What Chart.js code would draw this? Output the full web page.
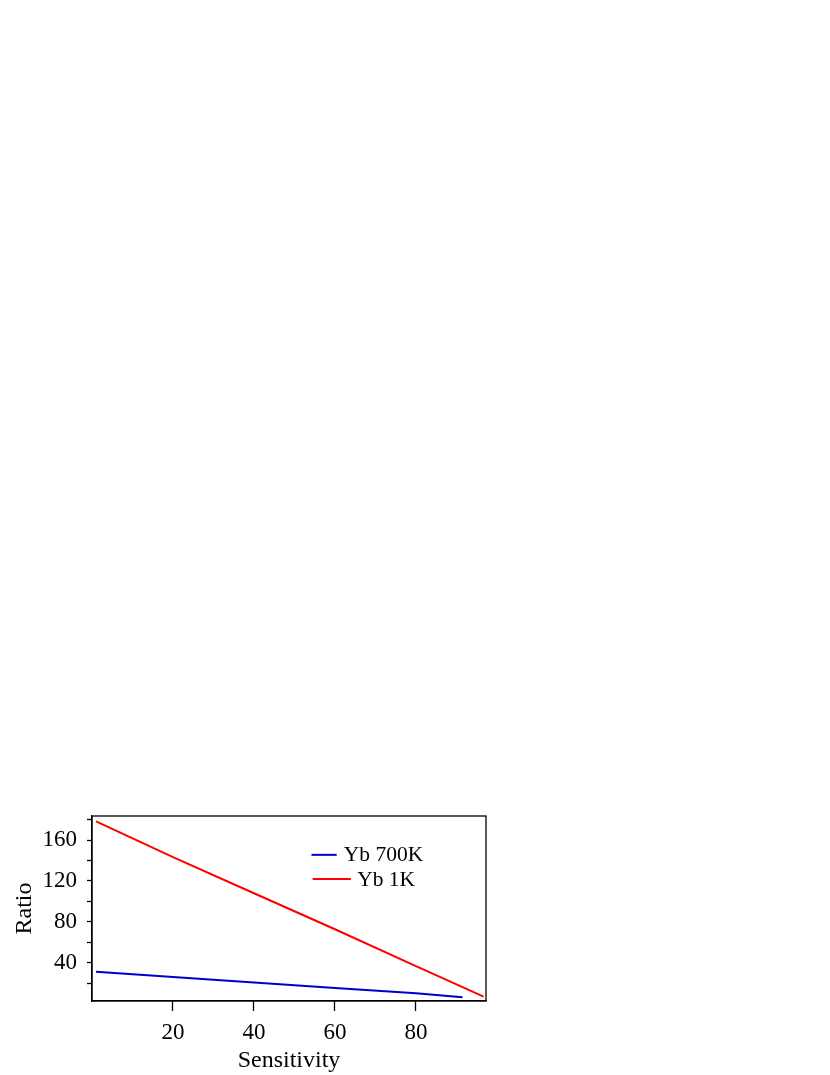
<!DOCTYPE html>
<html>
<head>
<meta charset="utf-8">
<script src="https://cdn.jsdelivr.net/npm/chart.js@4/dist/chart.umd.min.js"></script>
<style>
  html, body { margin: 0; padding: 0; background: #fff; }
  #wrap { width: 830px; height: 1075px; }
</style>
</head>
<body>
<div id="wrap"><canvas id="myChart" width="830" height="1075"></canvas></div>
<script>
// series (x = sensitivity, y = ratio)
var yb700kX = [1, 20, 40, 60, 80, 91.5];
var yb700kY = [31.1, 25.8, 20.5, 15.2, 9.9, 6.0];
var yb1kX = [1, 20, 40, 60, 80, 90, 96.7];
var yb1kY = [178.4, 143.3, 107.9, 72.7, 36.6, 18.6, 6.6];
var seriesNames = ["Yb 700K", "Yb 1K"];
var seriesColors = ["#0000cc", "#ff0000"];
var xTickValues = [20, 40, 60, 80];
var yTickValues = [20, 40, 60, 80, 100, 120, 140, 160, 180];
var yLabelValues = [40, 80, 120, 160];

function toPoints(xs, ys) {
  return xs.map(function (x, i) { return { x: x, y: ys[i] }; });
}

var fontFamily = "'Liberation Serif', 'DejaVu Serif', serif";

// box around the plot area
var frame = {
  id: 'frame',
  afterDraw: function (chart) {
    var a = chart.chartArea, ctx = chart.ctx;
    ctx.save();
    ctx.strokeStyle = '#000';
    ctx.lineWidth = 1.3;
    ctx.strokeRect(a.left, a.top, a.right - a.left, a.bottom - a.top);
    ctx.restore();
  }
};

// legend inside the plot, line sample then text
var insideLegend = {
  id: 'insideLegend',
  afterDatasetsDraw: function (chart) {
    var a = chart.chartArea, ctx = chart.ctx;
    var w = a.right - a.left, h = a.bottom - a.top;
    var rows = [
      { x0: 0.557, x1: 0.621, tx: 0.639, ty: 0.21 },
      { x0: 0.560, x1: 0.657, tx: 0.673, ty: 0.34 }
    ];
    ctx.save();
    ctx.font = '21.5px ' + fontFamily;
    ctx.textBaseline = 'middle';
    ctx.fillStyle = '#000';
    rows.forEach(function (r, i) {
      var y = a.top + r.ty * h;
      ctx.strokeStyle = seriesColors[i];
      ctx.lineWidth = 2;
      ctx.beginPath();
      ctx.moveTo(a.left + r.x0 * w, y);
      ctx.lineTo(a.left + r.x1 * w, y);
      ctx.stroke();
      ctx.fillText(seriesNames[i], a.left + r.tx * w, y + 1);
    });
    ctx.restore();
  }
};

var myChart = new Chart(document.getElementById("myChart"), {
  type: 'line',
  data: {
    datasets: [
      {
        label: seriesNames[0],
        data: toPoints(yb700kX, yb700kY),
        borderColor: seriesColors[0],
        borderWidth: 2,
        pointRadius: 0,
        fill: false,
        tension: 0
      },
      {
        label: seriesNames[1],
        data: toPoints(yb1kX, yb1kY),
        borderColor: seriesColors[1],
        borderWidth: 2,
        pointRadius: 0,
        fill: false,
        tension: 0
      }
    ]
  },
  options: {
    responsive: false,
    animation: false,
    layout: { padding: { top: 816, right: 344, left: 0, bottom: 0 } },
    plugins: {
      legend: { display: false },
      tooltip: { enabled: false }
    },
    scales: {
      x: {
        type: 'linear',
        min: 0,
        max: 97.3,
        afterBuildTicks: function (scale) {
          scale.ticks = xTickValues.map(function (v) { return { value: v }; });
        },
        afterFit: function (scale) { scale.height = 74; },
        ticks: {
          color: '#000',
          padding: 8,
          maxRotation: 0,
          autoSkip: false,
          font: { family: fontFamily, size: 23 }
        },
        grid: {
          drawOnChartArea: false,
          tickLength: 10,
          tickColor: '#000',
          tickWidth: 1.3
        },
        border: { display: true, color: '#000', width: 1.3 },
        title: {
          display: true,
          text: 'Sensitivity',
          color: '#000',
          padding: { top: 0, bottom: 0 },
          font: { family: fontFamily, size: 24 }
        }
      },
      y: {
        type: 'linear',
        min: 2.4,
        max: 183.6,
        afterBuildTicks: function (scale) {
          scale.ticks = yTickValues.map(function (v) { return { value: v }; });
        },
        afterFit: function (scale) { scale.width = 92; },
        ticks: {
          color: '#000',
          padding: 10,
          autoSkip: false,
          font: { family: fontFamily, size: 23 },
          callback: function (v) {
            return yLabelValues.indexOf(v) >= 0 ? String(v) : '';
          }
        },
        grid: {
          drawOnChartArea: false,
          tickLength: 5,
          tickColor: '#000',
          tickWidth: 1.3
        },
        border: { display: true, color: '#000', width: 1.3 },
        title: {
          display: true,
          text: 'Ratio',
          color: '#000',
          padding: { top: 10, bottom: 0 },
          font: { family: fontFamily, size: 24 }
        }
      }
    }
  },
  plugins: [frame, insideLegend]
});
</script>
</body>
</html>
